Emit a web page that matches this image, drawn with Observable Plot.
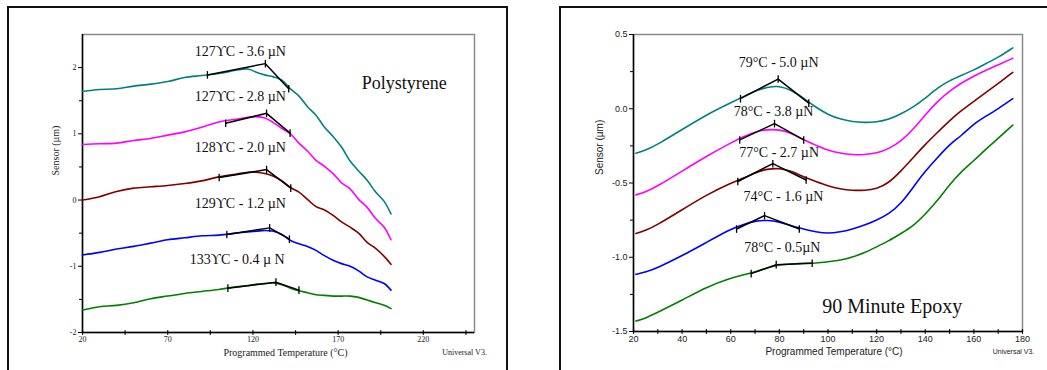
<!DOCTYPE html>
<html><head><meta charset="utf-8">
<script src="https://cdn.jsdelivr.net/npm/d3@7"></script>
<script src="https://cdn.jsdelivr.net/npm/@observablehq/plot@0.6"></script>
<style>
body{margin:0;background:#fff;}
#wrap{position:relative;width:1047px;height:370px;overflow:hidden;background:#fff;}
.panel{position:absolute;top:0;height:370px;}
.frame{position:absolute;border:2px solid #111;box-sizing:border-box;pointer-events:none;}
</style></head><body>
<div id="wrap">
 <div id="left" class="panel" style="left:0;width:520px"></div>
 <div id="right" class="panel" style="left:520px;width:527px"></div>
 <div class="frame" style="left:7px;top:6px;width:501px;height:400px"></div>
 <div class="frame" style="left:559px;top:6px;width:520px;height:400px"></div>
</div>
<script>
// ---------- Polystyrene panel data ----------
const psTemp = [20,30,40,50,60,70,80,90,100,110,117,122,127,132,137,142,147,152,157,162,167,172,177,182,187,192,197,201];
const psTeal = [1.64,1.67,1.68,1.72,1.75,1.79,1.85,1.88,1.91,1.96,1.98,1.93,1.89,1.86,1.81,1.68,1.57,1.41,1.28,1.10,0.96,0.80,0.59,0.44,0.30,0.12,-0.02,-0.21];
const psMagenta = [0.84,0.85,0.86,0.90,0.93,0.98,1.03,1.10,1.18,1.22,1.25,1.26,1.24,1.17,1.08,1.00,0.86,0.74,0.60,0.51,0.40,0.26,0.17,0.01,-0.11,-0.28,-0.41,-0.60];
const psRed = [0.00,0.05,0.13,0.18,0.20,0.22,0.25,0.29,0.35,0.39,0.42,0.42,0.40,0.36,0.29,0.19,0.12,0.01,-0.10,-0.15,-0.23,-0.33,-0.41,-0.50,-0.64,-0.73,-0.85,-0.97];
const psBlue = [-0.83,-0.79,-0.74,-0.70,-0.65,-0.60,-0.57,-0.54,-0.53,-0.50,-0.48,-0.47,-0.46,-0.47,-0.52,-0.61,-0.66,-0.70,-0.76,-0.84,-0.91,-0.96,-1.00,-1.07,-1.16,-1.21,-1.26,-1.36];
const psGreen = [-1.66,-1.61,-1.59,-1.55,-1.49,-1.45,-1.41,-1.38,-1.35,-1.31,-1.29,-1.27,-1.26,-1.25,-1.28,-1.33,-1.37,-1.40,-1.43,-1.44,-1.45,-1.45,-1.45,-1.47,-1.51,-1.55,-1.59,-1.64];
const psAnnoSeries = [0,0,0,1,1,1,2,2,2,3,3,3,4,4,4];
const psAnnoTemp = [93.3,127.3,141, 104,128,141.8, 100.2,128,142.2, 104.7,129.8,141.4, 105.3,133.5,147];
const psAnnoValue = [1.89,2.06,1.68, 1.16,1.31,1.01, 0.34,0.46,0.18, -0.52,-0.42,-0.59, -1.33,-1.24,-1.36];
const psLabels = ["127\u03D2C - 3.6 \u00B5N","127\u03D2C - 2.8 \u00B5N","128\u03D2C - 2.0 \u00B5N","129\u03D2C - 1.2 \u00B5N","133\u03D2C - 0.4 \u00B5 N"];
const psLabelTemp = [112.6,112.6,112.6,112.6,110.8];
const psLabelValue = [2.24,1.56,0.79,-0.05,-0.90];
const psXTickLabels = [20,70,120,170,220];
const psXTicks = [20,45,70,95,120,145,170,195,220,245];
const psYTickLabels = [-2,-1,0,1,2];
const psYMinor = [-1.5,-0.5,0.5,1.5];
const psTitle = "Polystyrene";

// ---------- 90 Minute Epoxy panel data ----------
const epTemp = [21,25,30,40,50,60,65,70,75,80,85,90,95,100,105,110,115,120,125,130,135,140,145,150,155,160,165,170,176];
const epTeal = [-0.30,-0.28,-0.24,-0.14,-0.04,0.04,0.08,0.12,0.145,0.155,0.125,0.07,0.01,-0.04,-0.07,-0.088,-0.093,-0.09,-0.073,-0.035,0.01,0.07,0.14,0.19,0.225,0.26,0.305,0.345,0.41];
const epMagenta = [-0.58,-0.56,-0.52,-0.42,-0.32,-0.23,-0.19,-0.155,-0.14,-0.14,-0.165,-0.21,-0.245,-0.28,-0.30,-0.31,-0.31,-0.30,-0.27,-0.22,-0.14,-0.04,0.05,0.12,0.175,0.22,0.26,0.295,0.34];
const epRed = [-0.84,-0.82,-0.78,-0.68,-0.58,-0.50,-0.47,-0.43,-0.405,-0.40,-0.42,-0.46,-0.49,-0.52,-0.54,-0.55,-0.55,-0.54,-0.50,-0.42,-0.33,-0.24,-0.16,-0.08,-0.01,0.05,0.11,0.17,0.245];
const epBlue = [-1.115,-1.10,-1.07,-0.99,-0.90,-0.81,-0.78,-0.755,-0.75,-0.76,-0.79,-0.81,-0.83,-0.84,-0.83,-0.81,-0.785,-0.75,-0.71,-0.64,-0.53,-0.42,-0.33,-0.24,-0.18,-0.10,-0.05,0.00,0.068];
const epGreen = [-1.43,-1.41,-1.37,-1.29,-1.20,-1.14,-1.12,-1.10,-1.07,-1.05,-1.045,-1.04,-1.04,-1.03,-1.02,-1.00,-0.97,-0.93,-0.89,-0.84,-0.79,-0.71,-0.62,-0.51,-0.42,-0.35,-0.27,-0.20,-0.11];
const epAnnoSeries = [0,0,0,1,1,1,2,2,2,3,3,3,4,4,4];
const epAnnoTemp = [64,79.5,92.1, 63.7,78,90, 62.9,77.3,91, 62.4,73.9,88.2, 68.4,78.7,93.5];
const epAnnoValue = [0.068,0.20,0.038, -0.21,-0.10,-0.21, -0.49,-0.37,-0.48, -0.81,-0.72,-0.81, -1.11,-1.05,-1.04];
const epLabels = ["79°C - 5.0 \u00B5N","78°C - 3.8 \u00B5N","77°C - 2.7 \u00B5N","74°C - 1.6 \u00B5N","78°C - 0.5\u00B5N"];
const epLabelTemp = [79.7,77.6,79.9,81.7,81.2];
const epLabelValue = [0.31,-0.02,-0.295,-0.59,-0.935];
const epXTickLabels = [20,40,60,80,100,120,140,160,180];
const epXTicks = [20,30,40,50,60,70,80,90,100,110,120,130,140,150,160,170,180];
const epYTickLabels = [-1.5,-1.0,-0.5,0.0,0.5];
const epYMinor = [-1.25,-0.75,-0.25,0.25];
const epTitle = "90 Minute Epoxy";

const seriesIds = [0,1,2,3,4];
const palette = ["#008080","#ff00ff","#800000","#0000ff","#008000"];

const xLabel = "Programmed Temperature (°C)";
const yLabel = "Sensor (\u00B5m)";
const footer = "Universal V3.";

const vTick = {draw(ctx, size){ const r = Math.sqrt(size/Math.PI); ctx.moveTo(0,-r); ctx.lineTo(0,r); }};
const hTick = {draw(ctx, size){ const r = Math.sqrt(size/Math.PI); ctx.moveTo(-r,0); ctx.lineTo(r,0); }};

function rowsOf(temp, series){
  return series.flatMap((vals, s) => temp.map((t, j) => ({t, v: vals[j], s})));
}
function annoOf(sr, tt, vv){ return sr.map((s, i) => ({s, t: tt[i], v: vv[i]})); }
function labelsOf(lab, tt, vv){ return lab.map((text, i) => ({text, t: tt[i], v: vv[i]})); }

const serif = "'Liberation Serif','Times New Roman',serif";
const sans = "'Liberation Sans',Arial,sans-serif";

function panel(cfg){
  const rows = rowsOf(cfg.temp, cfg.series);
  const anno = annoOf(cfg.annoS, cfg.annoT, cfg.annoV);
  const labs = labelsOf(cfg.labels, cfg.labelT, cfg.labelV);
  return Plot.plot({
    width: cfg.width, height: 370,
    marginLeft: cfg.ml, marginRight: cfg.mr, marginTop: 34, marginBottom: cfg.mb,
    x: {domain: cfg.xDomain, axis: null},
    y: {domain: cfg.yDomain, axis: null},
    color: {domain: seriesIds, range: palette},
    style: {fontFamily: cfg.tickFont, background: "transparent", overflow: "visible"},
    marks: [
      Plot.frame({stroke: "#8a8a8a", strokeWidth: 1.5}),
      Plot.ruleX([cfg.xDomain[0]], {stroke: "#000", strokeWidth: 1.5}),
      Plot.ruleY([cfg.yDomain[0]], {stroke: "#000", strokeWidth: 1.5}),
      Plot.dot(cfg.xTicks, {x: d => d, frameAnchor: "bottom", symbol: vTick, r: 2.3, stroke: "#000", strokeWidth: 1.2}),
      Plot.axisX({ticks: cfg.xTickLabels, tickSize: 0, tickPadding: 4, fontSize: cfg.tickSize, fill: "#222", tickFormat: d => String(d), label: null}),
      Plot.axisY({ticks: cfg.yTickLabels, tickSize: 4, tickPadding: 2, fontSize: cfg.tickSize, fill: "#222", stroke: "#000", tickFormat: cfg.yFormat, label: null}),
      Plot.dot(cfg.yMinor, {y: d => d, frameAnchor: "left", symbol: hTick, r: 2, dx: -1.5, stroke: "#000", strokeWidth: 1}),
      Plot.line(rows, {x: "t", y: "v", z: "s", stroke: "s", strokeWidth: 1.6, curve: cfg.curve}),
      Plot.line(anno, {x: "t", y: "v", z: "s", stroke: "#000", strokeWidth: 1.5}),
      Plot.dot(anno, {x: "t", y: "v", symbol: vTick, r: 3.8, stroke: "#000", strokeWidth: 1.3}),
      Plot.text(labs, {x: "t", y: "v", text: "text", fontFamily: serif, fontSize: 14, fill: "#111", textAnchor: "middle", lineAnchor: "middle"}),
      Plot.text([cfg.title], {x: cfg.titleT, y: cfg.titleV, fontFamily: serif, fontSize: cfg.titleSize, fill: "#111", textAnchor: "middle", lineAnchor: "middle"}),
      Plot.text([xLabel], {frameAnchor: "bottom", dx: cfg.xlDx, dy: 20, fontFamily: cfg.labelFont, fontSize: cfg.labelSize, fill: "#222", lineAnchor: "middle"}),
      Plot.text([yLabel], {frameAnchor: "left", dx: cfg.ylDx, dy: -8, rotate: -90, fontFamily: cfg.labelFont, fontSize: cfg.labelSize, fill: "#222", lineAnchor: "middle"}),
      Plot.text([footer], {frameAnchor: "bottom-right", dx: cfg.ftDx, dy: 20, fontFamily: cfg.labelFont, fontSize: cfg.footSize, fill: "#222", textAnchor: "middle", lineAnchor: "middle"})
    ]
  });
}

document.getElementById("left").append(panel({
  width: 520, ml: 82, mr: 46, mb: 38,
  xDomain: [20, 250], yDomain: [-2, 2.5],
  temp: psTemp, series: [psTeal, psMagenta, psRed, psBlue, psGreen], curve: "catmull-rom",
  annoS: psAnnoSeries, annoT: psAnnoTemp, annoV: psAnnoValue,
  labels: psLabels, labelT: psLabelTemp, labelV: psLabelValue,
  xTicks: psXTicks, xTickLabels: psXTickLabels, yTickLabels: psYTickLabels, yMinor: psYMinor,
  yFormat: d => String(d),
  title: psTitle, titleT: 208.8, titleV: 1.77, titleSize: 18,
  tickFont: serif, tickSize: 8, labelFont: serif, labelSize: 10, footSize: 8,
  xlDx: 7, ylDx: -27, ftDx: -10
}));

document.getElementById("right").append(panel({
  width: 527, ml: 113, mr: 25, mb: 39,
  xDomain: [20, 180], yDomain: [-1.5, 0.5],
  temp: epTemp, series: [epTeal, epMagenta, epRed, epBlue, epGreen], curve: "basis",
  annoS: epAnnoSeries, annoT: epAnnoTemp, annoV: epAnnoValue,
  labels: epLabels, labelT: epLabelTemp, labelV: epLabelValue,
  xTicks: epXTicks, xTickLabels: epXTickLabels, yTickLabels: epYTickLabels, yMinor: epYMinor,
  yFormat: d => d.toFixed(1),
  title: epTitle, titleT: 126.4, titleV: -1.33, titleSize: 20,
  tickFont: sans, tickSize: 9, labelFont: sans, labelSize: 10, footSize: 7,
  xlDx: 6, ylDx: -34, ftDx: -9
}));
</script>
</body></html>
